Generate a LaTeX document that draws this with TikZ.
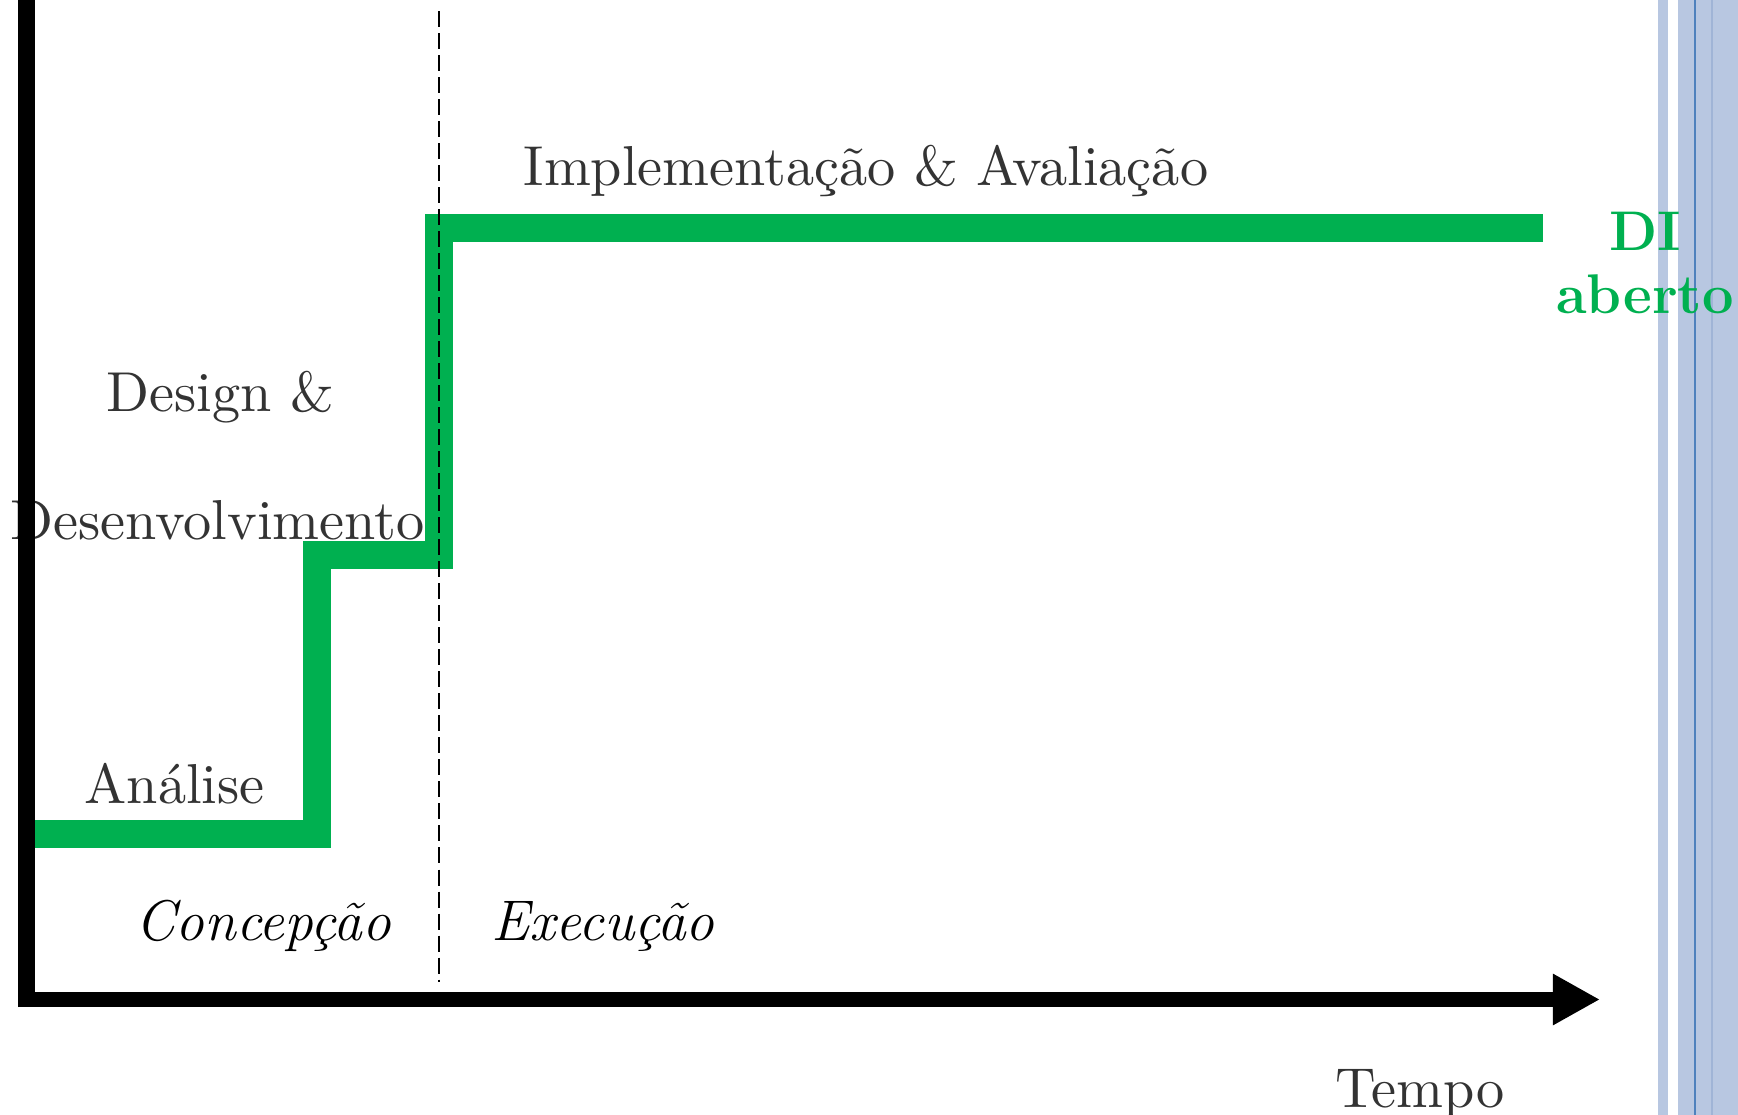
\documentclass[tikz,border=0pt]{standalone}
\usepackage{tikz}
\usetikzlibrary{arrows.meta}
\definecolor{phaseGreen}{RGB}{0,176,80}
\definecolor{labelGray}{RGB}{51,51,51}
\definecolor{stripeBlue}{RGB}{184,199,225}
\definecolor{stripeFaint}{RGB}{160,180,214}
\definecolor{stripeLine}{RGB}{79,129,189}
\newcommand{\bigLabel}[1]{\scalebox{1.6}{#1}}

\begin{document}
\begin{tikzpicture}[x=0.01cm, y=-0.01cm,
  phaseLine/.style={line width=0.28cm, draw=phaseGreen, line join=miter},
  axisLine/.style={line width=0.16cm, draw=black},
  labelText/.style={inner sep=0, anchor=base west, text=labelGray, font=\fontsize{10}{12}\selectfont},
  phaseText/.style={inner sep=0, anchor=base west, text=black, font=\fontsize{16.3}{19}\selectfont\itshape},
  stateText/.style={inner sep=0, anchor=base, text=phaseGreen, font=\fontsize{15.9}{19}\selectfont\bfseries}
]
\useasboundingbox (0,0) rectangle (1738,1115);

% page border stripes
\fill [stripeBlue] (1658,0) rectangle (1668,1115);
\fill [stripeBlue] (1678,0) rectangle (1738,1115);
\draw [stripeFaint, line width=0.02cm] (1712,0) -- (1712,1115);
\draw [stripeLine, line width=0.025cm] (1695,0) -- (1695,1115);

% labels
\node [labelText] (analise)  at (84,803)  {\bigLabel{Análise}};
\node [labelText] (design)   at (106,411) {\bigLabel{Design \&}};
\node [labelText] (desenv)   at (10,539)  {\bigLabel{Desenvolvimento}};
\node [labelText] (implem)   at (523,185) {\bigLabel{Implementação \& Avaliação}};
\node [phaseText] (concep)   at (135,940) {Concepção};
\node [phaseText] (execu)    at (491,940) {Execução};
\node [labelText] (tempo)    at (1335,1107) {\bigLabel{Tempo}};
\node [stateText] (di)       at (1645,250) {DI};
\node [stateText] (aberto)   at (1645,313) {aberto};

% phases
\coordinate (start) at (31,834);
\coordinate (riseA) at (317,555);
\coordinate (riseB) at (439,228);
\coordinate (stop)  at (1543,228);
\draw [phaseLine] (start) -| (riseA) -| (riseB) -- (stop);

% concepcao / execucao border
\coordinate (splitTop) at (439,11);
\coordinate (splitBot) at (439,982);
\draw [line width=0.02cm, dash pattern=on 0.16cm off 0.06cm] (splitTop) -- (splitBot);

% axes
\coordinate (origin) at (26.5,999.5);
\coordinate (yEnd)   at (26.5,-10);
\coordinate (xEnd)   at (1600,999.5);
\draw [axisLine, line width=0.17cm] (26.5,1007) -- (yEnd);
\draw [axisLine, line width=0.15cm, -{Triangle[length=0.47cm,width=0.48cm]}] (18,999.5) -- (xEnd);
\end{tikzpicture}
\end{document}
